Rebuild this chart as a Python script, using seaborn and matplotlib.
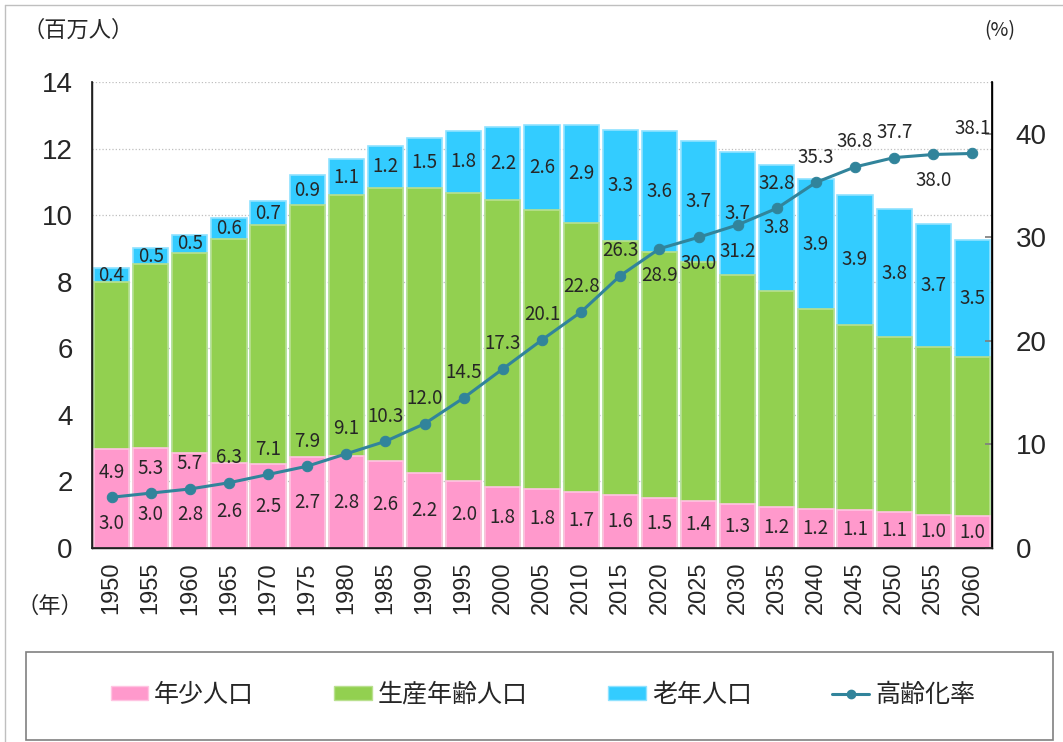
import numpy as np
import pandas as pd
import matplotlib
matplotlib.use("Agg")
import matplotlib.pyplot as plt
import seaborn as sns
from matplotlib.patches import Patch, Rectangle
from matplotlib.lines import Line2D

# data (百万人 / %)
years = ['1950', '1955', '1960', '1965', '1970', '1975', '1980', '1985', '1990', '1995', '2000', '2005',
         '2010', '2015', '2020', '2025', '2030', '2035', '2040', '2045', '2050', '2055', '2060']
young = [2.96, 2.99, 2.84, 2.56, 2.51, 2.72, 2.76, 2.60, 2.24, 2.00, 1.83, 1.76,
         1.67, 1.58, 1.49, 1.40, 1.31, 1.24, 1.18, 1.13, 1.07, 1.00, 0.96]
working = [5.02, 5.53, 6.03, 6.71, 7.18, 7.57, 7.85, 8.23, 8.59, 8.68, 8.62, 8.38,
           8.10, 7.64, 7.41, 7.18, 6.89, 6.49, 5.99, 5.58, 5.26, 5.03, 4.77]
elderly = [0.42, 0.49, 0.54, 0.64, 0.74, 0.91, 1.07, 1.24, 1.48, 1.84, 2.20, 2.57,
           2.94, 3.34, 3.63, 3.66, 3.70, 3.77, 3.91, 3.91, 3.84, 3.70, 3.53]
aging_rate = [4.9, 5.3, 5.7, 6.3, 7.1, 7.9, 9.1, 10.3, 12.0, 14.5, 17.3, 20.1,
              22.8, 26.3, 28.9, 30.0, 31.2, 32.8, 35.3, 36.8, 37.7, 38.0, 38.1]
series_names = ['年少人口', '生産年齢人口', '老年人口', '高齢化率']

PINK, GREEN, CYAN, LINE = '#FF99CC', '#92D050', '#33CCFF', '#31849B'
TICKFONT = ['Liberation Sans Narrow', 'Liberation Sans']

sns.set_theme(style="white")
plt.rcParams['font.family'] = ['Noto Sans CJK JP', 'DejaVu Sans']

df = pd.DataFrame({'year': years, 'young': young, 'working': working,
                   'elderly': elderly, 'rate': aging_rate})
df['mid'] = df['young'] + df['working']
df['top'] = df['mid'] + df['elderly']
pos = np.arange(len(df))

fig = plt.figure(figsize=(10.63, 7.42), dpi=100)
ax = fig.add_axes([92 / 1063, 1 - 548 / 742, 900 / 1063, 466 / 742])

# stacked bars drawn as overlapping cumulative totals
sns.barplot(data=df, x='year', y='top', color=CYAN, saturation=1, width=0.9,
            edgecolor='#8FE2FF', linewidth=1.2, ax=ax)
sns.barplot(data=df, x='year', y='mid', color=GREEN, saturation=1, width=0.9,
            edgecolor='#B9E08F', linewidth=1.2, ax=ax)
sns.barplot(data=df, x='year', y='young', color=PINK, saturation=1, width=0.9,
            edgecolor='#FFC4E2', linewidth=1.2, ax=ax)

ax.set_ylim(0, 14)
ax.set_xlim(-0.5, len(df) - 0.5)
ax.set_xlabel('')
ax.set_ylabel('')
ax.yaxis.grid(True, linestyle=':', color='#BFBFBF', linewidth=0.9)
ax.set_axisbelow(True)
ax.set_yticks(range(0, 15, 2), labels=[str(v) for v in range(0, 15, 2)],
              fontfamily=TICKFONT, fontsize=20)
ax.set_xticks(pos, labels=years, rotation=90, fontfamily=TICKFONT, fontsize=17)
ax.tick_params(axis='y', length=0, pad=14)
ax.tick_params(axis='x', length=0, pad=10)
for s in ['left', 'bottom', 'right']:
    ax.spines[s].set_color('black')
    ax.spines[s].set_linewidth(1.0)
ax.spines['top'].set_visible(False)

# value labels in bars
young_y = df['young'] / 2
young_y[:4] = [0.75, 1.0, 1.0, 1.1]
for i, row in df.iterrows():
    ax.text(i, young_y[i], f"{row['young']:.1f}", ha='center', va='center', fontsize=13.5)
    ax.text(i, row['mid'] + row['elderly'] / 2, f"{row['elderly']:.1f}",
            ha='center', va='center', fontsize=13.5)

# aging rate line on the right axis
ax2 = ax.twinx()
sns.lineplot(x=pos, y=df['rate'], ax=ax2, color=LINE, linewidth=2.2, marker='o',
             markersize=7.5, markeredgecolor=LINE)
if ax2.get_legend() is not None:
    ax2.get_legend().remove()
ax2.set_ylim(0, 45)
ax2.set_xlim(-0.5, len(df) - 0.5)
ax2.set_ylabel('')
ax2.set_yticks(range(0, 41, 10), labels=[str(v) for v in range(0, 41, 10)],
               fontfamily=TICKFONT, fontsize=20)
ax2.tick_params(axis='y', direction='in', length=5, color='#808080', pad=17)
ax2.spines['top'].set_visible(False)
ax2.spines['right'].set_color('black')

below = {14, 15, 16, 21}
for i, r in enumerate(aging_rate):
    dy = -19 if i in below else 18
    ax2.annotate(f"{r:.1f}", (i, r), xytext=(0, dy), textcoords='offset points',
                 ha='center', va='center', fontsize=13.5)

# axis captions
fig.text(23 / 1063, 1 - 30 / 742, '（百万人）', ha='left', va='center', fontsize=16)
fig.text(17 / 1063, 1 - 606 / 742, '（年）', ha='left', va='center', fontsize=16)
fig.text(1000 / 1063, 1 - 31 / 742, '(%)', ha='center', va='center', fontsize=14)

# outer frame and legend box
fig.add_artist(Line2D([5 / 1063, 5 / 1063], [0, 1 - 5 / 742], transform=fig.transFigure,
                      color='#BFBFBF', linewidth=1))
fig.add_artist(Line2D([5 / 1063, 1], [1 - 5 / 742, 1 - 5 / 742], transform=fig.transFigure,
                      color='#BFBFBF', linewidth=1))
fig.add_artist(Rectangle((26 / 1063, 2 / 742), 1027 / 1063, 88 / 742, transform=fig.transFigure,
                         facecolor='none', edgecolor='#808080', linewidth=1.2))

handles = [Patch(facecolor=PINK, edgecolor='#FFC4E2'),
           Patch(facecolor=GREEN, edgecolor='#B9E08F'),
           Patch(facecolor=CYAN, edgecolor='#8FE2FF'),
           Line2D([], [], color=LINE, linewidth=2.2, marker='o', markersize=6)]
fig.legend(handles, series_names, loc='center', bbox_to_anchor=(543 / 1063, 1 - 695 / 742),
           ncol=4, frameon=False, prop={'family': ['Noto Sans CJK JP', 'DejaVu Sans'], 'size': 18},
           handlelength=1.5, handleheight=0.5, handletextpad=0.25, columnspacing=3.2)

fig.savefig('out.png', dpi=100)
